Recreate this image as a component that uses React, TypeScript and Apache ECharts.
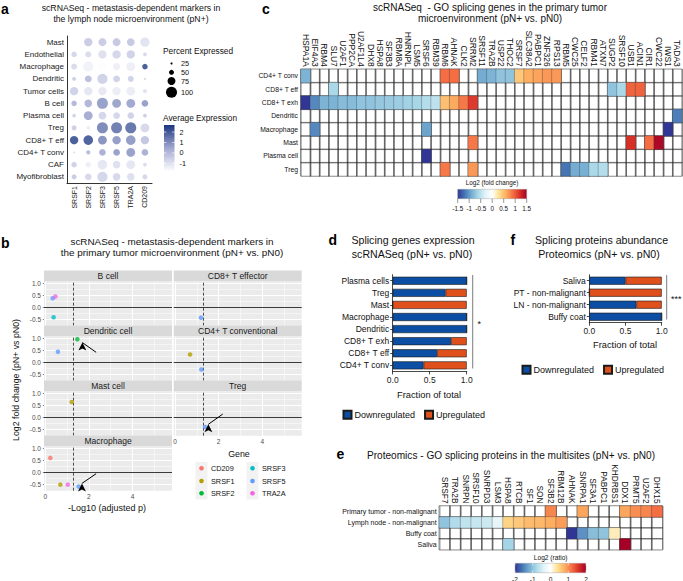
import React, { useEffect, useRef } from 'react';
import * as echarts from 'echarts';

const FONT = "'Liberation Sans', Arial, Helvetica, sans-serif";

// ---------------- panel a : dot plot ----------------
const aCellTypes = ['Mast', 'Endothelial', 'Macrophage', 'Dendritic', 'Tumor cells', 'B cell', 'Plasma cell', 'Treg', 'CD8+ T eff', 'CD4+ T conv', 'CAF', 'Myofibroblast'];
const aGenes = ['SRSF1', 'SRSF2', 'SRSF3', 'SRSF5', 'TRA2A', 'CD209'];
const aPercent = [
  [0, 78, 75, 75, 73, 86],
  [54, 58, 78, 78, 78, 40],
  [58, 93, 82, 68, 82, 54],
  [42, 66, 93, 66, 58, 27],
  [78, 78, 78, 78, 82, 42],
  [54, 71, 100, 82, 82, 64],
  [38, 82, 73, 64, 64, 40],
  [50, 40, 100, 100, 100, 82],
  [78, 88, 82, 78, 88, 78],
  [22, 44, 64, 64, 82, 64],
  [54, 54, 88, 71, 82, 40],
  [50, 64, 93, 71, 71, 50],
];
const aAverage = [
  [0, -0.2, -0.2, -0.1, -0.1, -0.9],
  [-0.5, -0.7, -0.8, -0.5, -0.4, -0.6],
  [-0.7, -1.4, -1.7, -1.3, -1.3, 2.6],
  [-0.3, 0.2, -0.4, -0.4, -0.4, -0.5],
  [-0.4, -1.0, -1.1, -1.2, -1.2, -0.8],
  [0.4, 0.5, 1.0, 0.9, 0.8, 1.0],
  [-0.4, 0.7, -0.5, -0.5, -0.4, -0.3],
  [-0.3, -1.2, 1.5, 1.8, 2.0, -0.6],
  [2.6, 2.5, 1.3, 1.1, 1.1, 0.0],
  [-0.5, 0.3, 0.6, 1.0, 1.0, 0.6],
  [-0.4, -1.3, -1.0, -0.8, -1.0, -0.7],
  [-0.2, -0.6, -0.5, -0.6, -0.8, -0.5],
];
const aSizeTicks = [25, 50, 75, 100];
const aColorTicks = [2, 1, 0, -1];
const aColorMin = -1.78;
const aColorMax = 2.68;

// ---------------- panel b : facets ----------------
const bGenes = ['CD209', 'SRSF1', 'SRSF2', 'SRSF3', 'SRSF5', 'TRA2A'];
const bFacets = ['B cell', 'CD8+ T effector', 'Dendritic cell', 'CD4+ T conventional', 'Mast cell', 'Treg', 'Macrophage'];
const bBcell: [string, number, number][] = [['SRSF5', 0.34, 0.38], ['TRA2A', 0.46, 0.45], ['SRSF3', 0.38, -0.4]];
const bCd8Eff: [string, number, number][] = [['SRSF5', 1.19, -0.42]];
const bDendritic: [string, number, number][] = [['SRSF2', 1.47, 0.96], ['SRSF5', 0.58, 0.44]];
const bCd4Conv: [string, number, number][] = [['SRSF1', 0.69, 0.33], ['SRSF5', 1.21, -0.29]];
const bMast: [string, number, number][] = [['SRSF1', 1.21, 0.64]];
const bTreg: [string, number, number][] = [['SRSF5', 1.38, -0.39]];
const bMacrophage: [string, number, number][] = [['CD209', 0.23, 0.6], ['SRSF1', 0.69, -0.5], ['TRA2A', 1.03, -0.5], ['SRSF5', 1.53, -0.58]];
const bPoints = [bBcell, bCd8Eff, bDendritic, bCd4Conv, bMast, bTreg, bMacrophage];
const bArrowFacets = ['Dendritic cell', 'Treg', 'Macrophage'];
const bArrowFrom = [[2.33, 0.42], [2.19, 0.14], [2.33, -0.05]];
const bArrowTo = [[1.7, 0.82], [1.53, -0.28], [1.68, -0.45]];
const bThreshold = 1.3;
const bXTicks = [0, 2, 4];
const bXMinor = [1, 3, 5];
const bYTicks = [-0.5, 0, 0.5, 1];
const bYMinor = [-0.25, 0.25, 0.75];

// ---------------- panel c : heatmap ----------------
const cCellTypes = ['CD4+ T conv', 'CD8+ T eff', 'CD8+ T exh', 'Dendritic', 'Macrophage', 'Mast', 'Plasma cell', 'Treg'];
const cGenes = ['HSPA1A', 'EIF4A3', 'RBM4', 'SLU7', 'U2AF1', 'PPP2CA', 'U2AF1L4', 'DHX8', 'HSPA8', 'SF3B3', 'RBM8A', 'HNRNPL', 'LSM5', 'SRSF6', 'RBM39', 'RBM6', 'AHNAK', 'CLK2', 'SRRM2', 'SRSF11', 'TRA2B', 'USP22', 'THOC2', 'SRSF7', 'SLC38A2', 'PABPC1', 'ZNF326', 'RPS13', 'RBM5', 'CWC25', 'CELF2', 'RBM41', 'ATXN7', 'SUGP2', 'SRSF10', 'USB1', 'ACIN1', 'CIR1', 'CWC22', 'IWS1', 'TADA3'];
const cValues: [string, string, number][] = [
  ['HSPA1A', 'CD4+ T conv', -0.85], ['RBM6', 'CD4+ T conv', 0.9], ['AHNAK', 'CD4+ T conv', 0.9], ['SRSF11', 'CD4+ T conv', -0.9], ['TRA2B', 'CD4+ T conv', -0.85], ['USP22', 'CD4+ T conv', -0.75], ['THOC2', 'CD4+ T conv', -0.75], ['SRSF7', 'CD4+ T conv', 0.45], ['SLC38A2', 'CD4+ T conv', 0.6], ['PABPC1', 'CD4+ T conv', 0.65], ['ZNF326', 'CD4+ T conv', 0.7], ['RPS13', 'CD4+ T conv', 0.7],
  ['SLU7', 'CD8+ T eff', -0.6], ['SUGP2', 'CD8+ T eff', -0.75], ['SRSF10', 'CD8+ T eff', -0.6], ['USB1', 'CD8+ T eff', 0.95], ['ACIN1', 'CD8+ T eff', 0.95],
  ['HSPA1A', 'CD8+ T exh', -1.5], ['EIF4A3', 'CD8+ T exh', -1.1], ['RBM4', 'CD8+ T exh', -0.85], ['SLU7', 'CD8+ T exh', -0.85], ['U2AF1', 'CD8+ T exh', -0.8], ['PPP2CA', 'CD8+ T exh', -0.8], ['U2AF1L4', 'CD8+ T exh', -0.75], ['DHX8', 'CD8+ T exh', -0.75], ['HSPA8', 'CD8+ T exh', -0.72], ['SF3B3', 'CD8+ T exh', -0.7], ['RBM8A', 'CD8+ T exh', -0.68], ['HNRNPL', 'CD8+ T exh', -0.65], ['LSM5', 'CD8+ T exh', -0.62], ['SRSF6', 'CD8+ T exh', -0.55], ['RBM39', 'CD8+ T exh', -0.5], ['RBM6', 'CD8+ T exh', 0.5], ['AHNAK', 'CD8+ T exh', 0.62], ['CLK2', 'CD8+ T exh', 0.85], ['SRRM2', 'CD8+ T exh', 1.15],
  ['TADA3', 'Dendritic', -1.15],
  ['EIF4A3', 'Macrophage', -1.1], ['SRSF6', 'Macrophage', -0.95], ['IWS1', 'Macrophage', -1.5],
  ['SRRM2', 'Mast', 0.85], ['USB1', 'Mast', 1.2], ['CIR1', 'Mast', 0.9], ['CWC22', 'Mast', 1.45],
  ['SRSF6', 'Plasma cell', -1.5],
  ['RBM6', 'Treg', 0.85], ['SRRM2', 'Treg', 0.7], ['RBM5', 'Treg', -1.2], ['CWC25', 'Treg', -0.9], ['CELF2', 'Treg', -0.88], ['RBM41', 'Treg', -0.6], ['ATXN7', 'Treg', -0.55],
];
const cBarTicks = [-1.5, -1, -0.5, 0, 0.5, 1, 1.5];

// ---------------- panel d : stacked bars ----------------
const dCellTypes = ['Plasma cells', 'Treg', 'Mast', 'Macrophage', 'Dendritic', 'CD8+ T exh', 'CD8+ T eff', 'CD4+ T conv'];
const dDown = [1, 0.714, 0, 1, 1, 0.789, 0.6, 0.417];
const dUp = [0, 0.286, 1, 0, 0, 0.211, 0.4, 0.583];

// ---------------- panel e : heatmap ----------------
const eSites = ['Primary tumor - non-malignant', 'Lymph node - non-malignant', 'Buffy coat', 'Saliva'];
const eGenes = ['SRSF7', 'TRA2B', 'SNRPN', 'SRSF10', 'SNRPD3', 'LSM3', 'HSPA8', 'RTCB', 'SF1', 'SON', 'SF3B2', 'RBM12B', 'AHNAK', 'SNRPA1', 'SF3A1', 'PABPC1', 'KHDRBS1', 'DDX1', 'PRMT5', 'U2AF2', 'DHX15'];
const eValues: [string, string, number][] = [
  ['SF3B2', 'Primary tumor - non-malignant', 1.05], ['SNRPA1', 'Primary tumor - non-malignant', 0.85], ['DDX1', 'Primary tumor - non-malignant', 0.85], ['PRMT5', 'Primary tumor - non-malignant', 1.0], ['U2AF2', 'Primary tumor - non-malignant', 1.05], ['DHX15', 'Primary tumor - non-malignant', 1.2],
  ['SRSF7', 'Lymph node - non-malignant', -1.0], ['TRA2B', 'Lymph node - non-malignant', -0.75], ['SNRPN', 'Lymph node - non-malignant', -0.65], ['SRSF10', 'Lymph node - non-malignant', -0.6], ['SNRPD3', 'Lymph node - non-malignant', -0.55], ['LSM3', 'Lymph node - non-malignant', -0.3], ['HSPA8', 'Lymph node - non-malignant', 0.5], ['RTCB', 'Lymph node - non-malignant', 0.6], ['SF1', 'Lymph node - non-malignant', 0.7], ['SON', 'Lymph node - non-malignant', 0.72], ['SF3B2', 'Lymph node - non-malignant', 0.8], ['RBM12B', 'Lymph node - non-malignant', 0.9],
  ['AHNAK', 'Buffy coat', -2.0], ['SNRPA1', 'Buffy coat', -1.4], ['SF3A1', 'Buffy coat', -1.05], ['PABPC1', 'Buffy coat', -1.0], ['KHDRBS1', 'Buffy coat', 0.25],
  ['HSPA8', 'Saliva', -0.85], ['DDX1', 'Saliva', 2.0],
];
const eBarTicks = [-2, -1, 0, 1, 2];

// ---------------- panel f : stacked bars ----------------
const fSites = ['Saliva', 'PT - non-malignant', 'LN - non-malignant', 'Buffy coat'];
const fDown = [0.5, 0, 0.65, 1];
const fUp = [0.5, 1, 0.35, 0];

// ---------------- styles ----------------
const GENE_COLORS = ['#F8766D', '#B79F00', '#00BA38', '#00BFC4', '#619CFF', '#F564E3'];
const A_COLORS = ['#ffffff', '#a3a8d1', '#1a3680'];
const RDBU = ['#313695', '#4575b4', '#74add1', '#abd9e9', '#e0f3f8', '#ffffff', '#fee090', '#fdae61', '#f46d43', '#d73027', '#a50026'];
const DOWN_C = '#0c4ea4';
const UP_C = '#df501c';

const aSize = (p: number) => Math.max(1.2, 2 + (p - 25) * 0.12);

function txt(text: string, x: number, y: number, size: number, o: any = {}) {
  return {
    type: 'text', x, y, rotation: o.rotation || 0, silent: true, z: 100,
    style: {
      text, fontSize: size, fontFamily: FONT, fontWeight: o.bold ? 'bold' : 'normal',
      fill: o.color || '#111', align: o.align || 'center', verticalAlign: o.va || 'middle',
    },
  };
}
function rect(x: number, y: number, w: number, h: number, style: any) {
  return { type: 'rect', silent: true, z: 90, shape: { x, y, width: w, height: h }, style };
}
function line(x1: number, y1: number, x2: number, y2: number, stroke: string, lw: number) {
  return { type: 'line', silent: true, z: 95, shape: { x1, y1, x2, y2 }, style: { stroke, lineWidth: lw } };
}
function gradient(colors: string[], vertical: boolean) {
  return {
    type: 'linear', x: 0, y: 0, x2: vertical ? 0 : 1, y2: vertical ? 1 : 0,
    colorStops: colors.map((c, i) => ({ offset: i / (colors.length - 1), color: c })),
  };
}

function buildOption() {
  const grids: any[] = [];
  const xAxes: any[] = [];
  const yAxes: any[] = [];
  const series: any[] = [];
  const visualMaps: any[] = [];
  const g: any[] = [];
  const bgHeatIdx: number[] = [];

  // ===== panel a =====
  grids.push({ left: 67, top: 36, width: 85, height: 147 });
  xAxes.push({
    gridIndex: 0, type: 'category', data: aGenes,
    axisLine: { lineStyle: { color: '#000', width: 0.8 } },
    axisTick: { alignWithLabel: true, length: 3, lineStyle: { color: '#000', width: 0.8 } },
    axisLabel: { rotate: 90, fontSize: 7, color: '#222', margin: 3, interval: 0 },
    splitLine: { show: false },
  });
  yAxes.push({
    gridIndex: 0, type: 'category', data: aCellTypes, inverse: true,
    axisLine: { lineStyle: { color: '#000', width: 0.8 } },
    axisTick: { alignWithLabel: true, length: 3, lineStyle: { color: '#000', width: 0.8 } },
    axisLabel: { fontSize: 8, color: '#222', margin: 3, interval: 0 },
    splitLine: { show: false },
  });
  const aData: number[][] = [];
  aCellTypes.forEach((_, r) => aGenes.forEach((__, c) => {
    if (aPercent[r][c] > 0) aData.push([c, r, aPercent[r][c], aAverage[r][c]]);
  }));
  series.push({
    type: 'scatter', xAxisIndex: 0, yAxisIndex: 0, data: aData, silent: true,
    symbolSize: (v: number[]) => aSize(v[2]),
  });
  visualMaps.push({ type: 'continuous', show: false, seriesIndex: 0, dimension: 3, min: aColorMin, max: aColorMax, inRange: { color: A_COLORS } });

  g.push(txt('a', 1, 8.5, 14, { bold: true, align: 'left', color: '#000' }));
  g.push(txt('scRNASeq - metastasis-dependent markers in', 131, 7.5, 8.7));
  g.push(txt('the lymph node microenvironment (pN+)', 131, 19, 8.7));
  g.push(txt('Percent Expressed', 163, 51, 8.3, { align: 'left' }));
  const sizeY = [63.5, 72.3, 81, 92.3];
  aSizeTicks.forEach((s, i) => {
    g.push({ type: 'circle', silent: true, z: 95, shape: { cx: 171.5, cy: sizeY[i], r: aSize(s) / 2 }, style: { fill: '#000' } });
    g.push(txt(String(s), 181, sizeY[i], 7.3, { align: 'left' }));
  });
  g.push(txt('Average Expression', 163, 117.5, 8.3, { align: 'left' }));
  g.push(rect(164, 125, 10.5, 46.5, { fill: gradient([...A_COLORS].reverse(), true) }));
  aColorTicks.forEach((v) => {
    const y = 171.5 - (v - aColorMin) / (aColorMax - aColorMin) * 46.5;
    g.push(line(164, y, 166.3, y, '#fff', 0.7));
    g.push(line(172.2, y, 174.5, y, '#fff', 0.7));
    g.push(txt(String(v), 179.5, y, 7.3, { align: 'left' }));
  });

  // ===== panel b =====
  const bTops = [282, 337, 392, 447];
  const bW = 128;
  const bH = 43.7;
  bFacets.forEach((name, i) => {
    const col = i % 2;
    const row = Math.floor(i / 2);
    const left = col ? 173.7 : 44;
    const top = bTops[row];
    const gi = grids.length;
    grids.push({ left, top, width: bW, height: bH, show: true, backgroundColor: '#EBEBEB', borderWidth: 0 });
    const showX = name === 'Treg' || name === 'Macrophage';
    const showY = col === 0;
    xAxes.push({
      gridIndex: gi, type: 'value', min: -0.06, max: 5.81,
      axisLine: { show: false },
      axisTick: { show: showX, length: 2.5, customValues: bXTicks, lineStyle: { color: '#333', width: 0.6 } },
      axisLabel: { show: showX, customValues: bXTicks, fontSize: 6.5, color: '#4D4D4D', margin: 2 },
      splitLine: { show: false },
    });
    yAxes.push({
      gridIndex: gi, type: 'value', min: -0.75, max: 1.05,
      axisLine: { show: false },
      axisTick: { show: showY, length: 2.5, customValues: bYTicks, lineStyle: { color: '#333', width: 0.6 } },
      axisLabel: { show: showY, customValues: bYTicks, fontSize: 6.5, color: '#4D4D4D', margin: 3, formatter: (v: number) => Number(v).toFixed(1) },
      splitLine: { show: false },
    });
    const mlData: any[] = [];
    bXMinor.forEach((v) => mlData.push({ xAxis: v, lineStyle: { color: '#fff', width: 0.5, type: 'solid' } }));
    bYMinor.forEach((v) => mlData.push({ yAxis: v, lineStyle: { color: '#fff', width: 0.5, type: 'solid' } }));
    bXTicks.forEach((v) => mlData.push({ xAxis: v, lineStyle: { color: '#fff', width: 1, type: 'solid' } }));
    bYTicks.forEach((v) => mlData.push({ yAxis: v, lineStyle: { color: '#fff', width: 1, type: 'solid' } }));
    mlData.push({ yAxis: 0, lineStyle: { color: '#3a3a3a', width: 1, type: 'solid' } });
    mlData.push({ xAxis: bThreshold, lineStyle: { color: '#222', width: 0.8, type: [3, 2] } });
    series.push({
      type: 'line', xAxisIndex: gi, yAxisIndex: gi, data: [], silent: true,
      markLine: { silent: true, symbol: 'none', z: 1, label: { show: false }, emphasis: { disabled: true }, animation: false, data: mlData },
    });
    const ai = bArrowFacets.indexOf(name);
    const pts = bPoints[i];
    series.push({
      type: 'scatter', xAxisIndex: gi, yAxisIndex: gi, silent: true, z: 3, symbolSize: 4.6,
      data: pts.map((p) => ({ value: [p[1], p[2]], itemStyle: { color: GENE_COLORS[bGenes.indexOf(p[0])] } })),
      markLine: ai >= 0 ? {
        silent: true, z: 6, label: { show: false }, animation: false,
        symbol: ['none', 'triangle'], symbolSize: [2, 7], symbolRotate: 0,
        lineStyle: { color: '#000', width: 1, type: 'solid' },
        itemStyle: { color: '#000' },
        data: [[
          { coord: bArrowFrom[ai], symbol: 'none' },
          { coord: bArrowTo[ai], symbol: 'arrow', symbolSize: [6, 8], itemStyle: { color: '#000' } },
        ]],
      } : undefined,
    });
    g.push(rect(left, top - 11.5, bW, 11, { fill: '#D9D9D9' }));
    g.push(txt(name, left + bW / 2, top - 6, 8.5, { color: '#1A1A1A' }));
  });
  g.push(txt('b', 1, 242.5, 14, { bold: true, align: 'left', color: '#000' }));
  g.push(txt('scRNASeq - metastasis-dependent markers in', 172, 241.3, 9.9));
  g.push(txt('the primary tumor microenvironment (pN+ vs. pN0)', 172, 252.7, 9.9));
  g.push(txt('Log2 fold change (pN+ vs pN0)', 15.5, 380, 8.8, { rotation: Math.PI / 2 }));
  g.push(txt('-Log10 (adjusted p)', 107, 508, 9));
  g.push(txt('Gene', 239, 454, 8.8));
  const legY = [468.3, 481, 493.3];
  [195.5, 246.5].forEach((x) => g.push(rect(x, 462, 12, 37.5, { fill: '#F2F2F2' })));
  bGenes.forEach((gn, k) => {
    const col = Math.floor(k / 3);
    const cx = col ? 252.5 : 201.5;
    const cy = legY[k % 3];
    g.push({ type: 'circle', silent: true, z: 95, shape: { cx, cy, r: 2.3 }, style: { fill: GENE_COLORS[k] } });
    g.push(txt(gn, cx + 9.5, cy, 7.3, { align: 'left' }));
  });

  // ===== panel c =====
  const cGi = grids.length;
  grids.push({ left: 301, top: 69.3, width: 381, height: 106.7 });
  xAxes.push({
    gridIndex: cGi, type: 'category', data: cGenes, position: 'top',
    axisLine: { show: false }, axisTick: { show: false },
    axisLabel: { rotate: 90, fontSize: 8.5, color: '#111', margin: 2.5, interval: 0 },
    splitLine: { show: true, interval: 0, lineStyle: { color: '#cfcfcf', width: 2 } },
  });
  yAxes.push({
    gridIndex: cGi, type: 'category', data: cCellTypes, inverse: true,
    axisLine: { show: false }, axisTick: { show: false },
    axisLabel: { fontSize: 6.8, color: '#111', margin: 3, interval: 0 },
    splitLine: { show: false },
  });
  const cBg: number[][] = [];
  cGenes.forEach((_, i) => cCellTypes.forEach((__, j) => cBg.push([i, j, 0])));
  bgHeatIdx.push(series.length);
  series.push({
    type: 'heatmap', xAxisIndex: cGi, yAxisIndex: cGi, data: cBg, silent: true,
    itemStyle: { color: 'rgba(255,255,255,0)', borderColor: '#3a3a3a', borderWidth: 0.6 },
  });
  const cValIdx = series.length;
  series.push({
    type: 'heatmap', xAxisIndex: cGi, yAxisIndex: cGi, silent: true,
    data: cValues.map((v) => [cGenes.indexOf(v[0]), cCellTypes.indexOf(v[1]), v[2]]),
    itemStyle: { borderColor: 'rgba(50,50,50,0.55)', borderWidth: 0.5 },
  });
  visualMaps.push({ type: 'continuous', show: false, seriesIndex: cValIdx, dimension: 2, min: -1.5, max: 1.5, inRange: { color: RDBU } });
  g.push(txt('c', 262, 8.5, 14, { bold: true, align: 'left', color: '#000' }));
  g.push(txt('scRNASeq  - GO splicing genes in the primary tumor', 490, 7, 10));
  g.push(txt('microenvironment (pN+ vs. pN0)', 490, 18.4, 10));
  g.push(txt('Log2 (fold change)', 492, 182.5, 6.3));
  const cbX = 457.7, cbW = 69;
  g.push(rect(cbX, 189.3, cbW, 9.4, { fill: gradient(RDBU, false), stroke: '#999', lineWidth: 0.4 }));
  cBarTicks.forEach((v) => {
    const x = cbX + (v + 1.5) / 3 * cbW;
    g.push(line(x, 198.7, x, 203, '#333', 0.5));
    g.push(txt(String(v), x, 208.5, 6.3));
  });

  // ===== panel d =====
  const dGi = grids.length;
  grids.push({ left: 392.7, top: 274.7, width: 74, height: 96.7 });
  xAxes.push({
    gridIndex: dGi, type: 'value', min: 0, max: 1, interval: 0.5,
    axisLine: { show: true, lineStyle: { color: '#1a1a1a', width: 0.8 } },
    axisTick: { show: true, length: 3, lineStyle: { color: '#1a1a1a', width: 0.8 } },
    axisLabel: { fontSize: 8.5, color: '#222', margin: 4, formatter: (v: number) => Number(v).toFixed(1) },
    splitLine: { show: false },
  });
  yAxes.push({
    gridIndex: dGi, type: 'category', data: dCellTypes, inverse: true,
    axisLine: { show: true, lineStyle: { color: '#1a1a1a', width: 0.8 } },
    axisTick: { show: true, alignWithLabel: true, length: 2.5, lineStyle: { color: '#1a1a1a', width: 0.8 } },
    axisLabel: { fontSize: 8.5, color: '#111', margin: 3.5, interval: 0 },
    splitLine: { show: false },
  });
  series.push({
    type: 'bar', name: 'Downregulated', xAxisIndex: dGi, yAxisIndex: dGi, stack: 'd', data: dDown, barWidth: 8, silent: true,
    itemStyle: { color: DOWN_C, borderColor: '#1a1a1a', borderWidth: 0.6 },
  });
  series.push({
    type: 'bar', name: 'Upregulated', xAxisIndex: dGi, yAxisIndex: dGi, stack: 'd', data: dUp, barWidth: 8, silent: true,
    itemStyle: { color: UP_C, borderColor: '#1a1a1a', borderWidth: 0.6 },
  });
  g.push(txt('d', 328.5, 240, 14, { bold: true, align: 'left', color: '#000' }));
  g.push(txt('Splicing genes expression', 413, 240, 10.6));
  g.push(txt('scRNASeq (pN+ vs. pN0)', 412, 253.5, 10.6));
  g.push(txt('Fraction of total', 429, 395, 9.3));
  g.push(line(472.7, 275, 472.7, 368.5, '#444', 0.7));
  g.push(txt('*', 477.5, 324, 9, { align: 'left' }));

  // ===== panel e =====
  const eGi = grids.length;
  grids.push({ left: 439.3, top: 506, width: 223, height: 43.7 });
  xAxes.push({
    gridIndex: eGi, type: 'category', data: eGenes, position: 'top',
    axisLine: { show: false }, axisTick: { show: false },
    axisLabel: { rotate: 90, fontSize: 8.3, color: '#111', margin: 2.5, interval: 0 },
    splitLine: { show: true, interval: 0, lineStyle: { color: '#cfcfcf', width: 2 } },
  });
  yAxes.push({
    gridIndex: eGi, type: 'category', data: eSites, inverse: true,
    axisLine: { show: false }, axisTick: { show: false },
    axisLabel: { fontSize: 7, color: '#111', margin: 2.6, interval: 0 },
    splitLine: { show: false },
  });
  const eBg: number[][] = [];
  eGenes.forEach((_, i) => eSites.forEach((__, j) => eBg.push([i, j, 0])));
  bgHeatIdx.push(series.length);
  series.push({
    type: 'heatmap', xAxisIndex: eGi, yAxisIndex: eGi, data: eBg, silent: true,
    itemStyle: { color: 'rgba(255,255,255,0)', borderColor: '#3a3a3a', borderWidth: 0.6 },
  });
  const eValIdx = series.length;
  series.push({
    type: 'heatmap', xAxisIndex: eGi, yAxisIndex: eGi, silent: true,
    data: eValues.map((v) => [eGenes.indexOf(v[0]), eSites.indexOf(v[1]), v[2]]),
    itemStyle: { borderColor: 'rgba(50,50,50,0.55)', borderWidth: 0.5 },
  });
  visualMaps.push({ type: 'continuous', show: false, seriesIndex: eValIdx, dimension: 2, min: -2, max: 2, inRange: { color: RDBU } });
  visualMaps.push({
    type: 'continuous', show: false, seriesIndex: bgHeatIdx, dimension: 2, min: -1, max: 1,
    inRange: { color: ['rgba(255,255,255,0)', 'rgba(255,255,255,0)'] },
  });
  g.push(txt('e', 336.5, 454, 14, { bold: true, align: 'left', color: '#000' }));
  g.push(txt('Proteomics - GO splicing proteins in the multisites (pN+ vs. pN0)', 511, 455.5, 10.1));
  g.push(txt('Log2 (ratio)', 550.7, 557, 6.6));
  const ebX = 515, ebW = 71;
  g.push(rect(ebX, 563.3, ebW, 9.4, { fill: gradient(RDBU, false), stroke: '#999', lineWidth: 0.4 }));
  eBarTicks.forEach((v) => {
    const x = ebX + (v + 2) / 4 * ebW;
    g.push(line(x, 563.3, x, 565.5, '#fff', 0.6));
    g.push(line(x, 570.5, x, 572.7, '#fff', 0.6));
    g.push(txt(String(v), x, 579, 6.6));
  });

  // ===== panel f =====
  const fGi = grids.length;
  grids.push({ left: 589.3, top: 274.7, width: 72.4, height: 48 });
  xAxes.push({
    gridIndex: fGi, type: 'value', min: 0, max: 1, interval: 0.5,
    axisLine: { show: true, lineStyle: { color: '#1a1a1a', width: 0.8 } },
    axisTick: { show: true, length: 3, lineStyle: { color: '#1a1a1a', width: 0.8 } },
    axisLabel: { fontSize: 8.5, color: '#222', margin: 4, formatter: (v: number) => Number(v).toFixed(1) },
    splitLine: { show: false },
  });
  yAxes.push({
    gridIndex: fGi, type: 'category', data: fSites, inverse: true,
    axisLine: { show: true, lineStyle: { color: '#1a1a1a', width: 0.8 } },
    axisTick: { show: true, alignWithLabel: true, length: 2.5, lineStyle: { color: '#1a1a1a', width: 0.8 } },
    axisLabel: { fontSize: 8.5, color: '#111', margin: 3.5, interval: 0 },
    splitLine: { show: false },
  });
  series.push({
    type: 'bar', name: 'Downregulated', xAxisIndex: fGi, yAxisIndex: fGi, stack: 'f', data: fDown, barWidth: 8, silent: true,
    itemStyle: { color: DOWN_C, borderColor: '#1a1a1a', borderWidth: 0.6 },
  });
  series.push({
    type: 'bar', name: 'Upregulated', xAxisIndex: fGi, yAxisIndex: fGi, stack: 'f', data: fUp, barWidth: 8, silent: true,
    itemStyle: { color: UP_C, borderColor: '#1a1a1a', borderWidth: 0.6 },
  });
  g.push(txt('f', 510.5, 240, 14, { bold: true, align: 'left', color: '#000' }));
  g.push(txt('Splicing proteins abundance', 601.5, 240, 10.6));
  g.push(txt('Proteomics (pN+ vs. pN0)', 599, 253.5, 10.6));
  g.push(txt('Fraction of total', 625, 345, 9.3));
  g.push(line(666.7, 275, 666.7, 319.5, '#444', 0.7));
  g.push(txt('***', 671, 298.5, 9, { align: 'left' }));

  const legendBase = {
    orient: 'horizontal', itemWidth: 8, itemHeight: 8, itemGap: 9, icon: 'rect', padding: 0,
    selectedMode: false, data: ['Downregulated', 'Upregulated'],
    textStyle: { fontSize: 9, color: '#111', fontFamily: FONT, padding: [0, 0, 0, -2] },
  };

  return {
    animation: false,
    backgroundColor: '#ffffff',
    textStyle: { fontFamily: FONT },
    tooltip: { show: false },
    grid: grids,
    xAxis: xAxes,
    yAxis: yAxes,
    visualMap: visualMaps,
    legend: [
      { ...legendBase, left: 342.5, top: 409.8 },
      { ...legendBase, left: 521.5, top: 364.8 },
    ],
    series,
    graphic: g,
  };
}

export default function App() {
  const ref = useRef<HTMLDivElement>(null);
  useEffect(() => {
    if (!ref.current) return;
    const chart = echarts.init(ref.current, null, { renderer: 'svg' });
    chart.setOption(buildOption() as any);
    return () => chart.dispose();
  }, []);
  return (
    <div
      ref={ref}
      style={{ position: 'absolute', left: 0, top: 0, width: 683, height: 581, background: '#fff' }}
    />
  );
}
